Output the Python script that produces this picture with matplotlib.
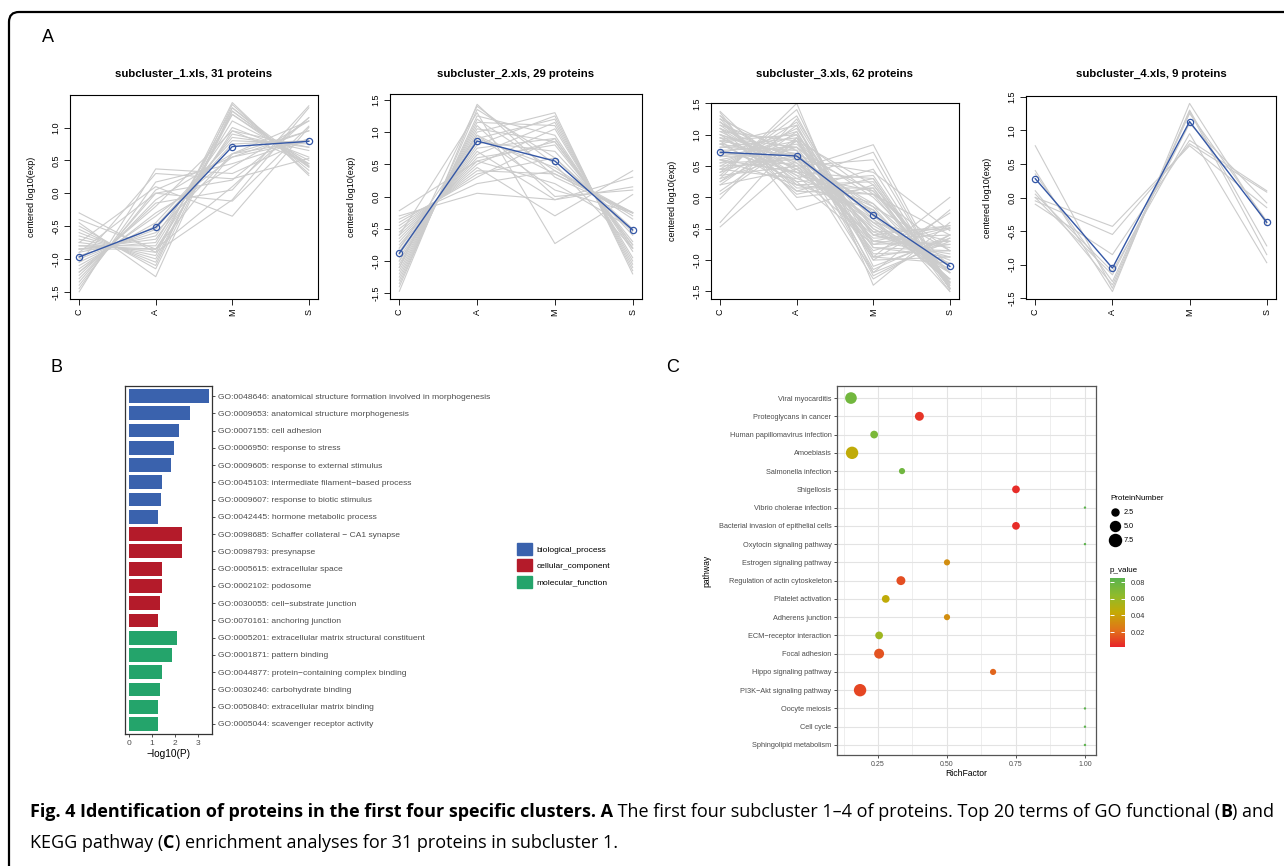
import numpy as np
import matplotlib
matplotlib.use("Agg")
import matplotlib.pyplot as plt
from matplotlib.colors import LinearSegmentedColormap, Normalize
from matplotlib.cm import ScalarMappable
from matplotlib.lines import Line2D
from matplotlib.patches import Patch, FancyBboxPatch
from matplotlib.transforms import IdentityTransform

plt.rcParams['font.family'] = ['Liberation Sans', 'DejaVu Sans']
plt.rcParams['axes.unicode_minus'] = False

W, H = 1284, 866

# ===============================
# Panel A data: profiles per subcluster (C, A, M, S)
# ===============================
conditions = ['C', 'A', 'M', 'S']

sub1_title = 'subcluster_1.xls, 31 proteins'
sub1_center = [-0.97, -0.52, 0.71, 0.79]
sub1_profiles = [
    [-1.50, 0.37, 0.30, 0.83], [-1.45, 0.17, 0.45, 0.83], [-1.40, 0.05, 0.55, 0.80],
    [-1.35, 0.00, 0.20, 1.15], [-1.30, -0.10, 0.60, 0.80], [-1.25, -0.15, 0.05, 1.33],
    [-1.20, -0.30, 0.40, 1.10], [-1.15, -0.35, 0.55, 0.95], [-1.10, -0.45, 0.80, 0.75],
    [-1.05, -0.50, 0.75, 0.80], [-1.00, -0.55, 0.85, 0.70], [-0.95, -0.60, 0.60, 0.95],
    [-0.90, -0.65, 1.00, 0.55], [-0.85, -0.70, 0.90, 0.65], [-0.85, -0.75, 1.20, 0.40],
    [-0.80, -0.80, 1.10, 0.50], [-0.80, -0.85, 0.95, 0.70], [-0.75, -0.90, 1.30, 0.35],
    [-0.70, -0.95, 1.38, 0.27], [-0.65, -1.00, 1.20, 0.45], [-0.60, -1.05, 1.25, 0.40],
    [-0.55, -1.10, 1.35, 0.30], [-0.50, -1.15, 1.25, 0.40], [-0.45, -1.27, 1.30, 0.42],
    [-0.40, -0.85, 0.10, 1.15], [-0.30, -0.90, -0.10, 1.30], [-0.75, 0.10, -0.35, 1.00],
    [-0.90, 0.00, -0.12, 1.02], [-1.05, 0.30, 0.22, 0.53], [-1.20, -0.20, 0.95, 0.45],
    [-0.85, -0.85, 0.60, 1.10],
]

sub2_title = 'subcluster_2.xls, 29 proteins'
sub2_center = [-0.88, 0.86, 0.55, -0.52]
sub2_profiles = [
    [-1.47, 1.43, 0.30, -0.26], [-1.40, 1.35, 0.60, -0.55], [-1.35, 1.25, 0.95, -0.85],
    [-1.30, 1.20, 0.40, -0.30], [-1.25, 1.15, 1.10, -1.00], [-1.20, 1.10, 0.00, 0.10],
    [-1.15, 1.05, 0.85, -0.75], [-1.10, 1.00, 1.30, -1.20], [-1.05, 0.95, 0.35, -0.25],
    [-1.00, 0.90, 1.20, -1.10], [-0.95, 0.85, 0.70, -0.60], [-0.90, 0.80, 1.25, -1.15],
    [-0.85, 0.75, 0.90, -0.80], [-0.80, 0.70, -0.05, 0.15], [-0.75, 0.65, 1.15, -1.05],
    [-0.70, 0.60, 0.80, -0.70], [-0.65, 0.55, 0.85, -0.75], [-0.60, 0.50, 1.05, -0.95],
    [-0.55, 0.45, -0.30, 0.40], [-0.50, 0.40, 0.35, -0.25], [-0.45, 0.35, 0.60, -0.50],
    [-0.40, 0.30, 0.90, -0.80], [-0.35, 0.20, 0.40, -0.25], [-0.30, 0.05, -0.05, 0.30],
    [-0.60, 1.30, -0.73, 0.03], [-1.10, 1.40, 0.50, -0.80], [-0.80, 0.95, 0.10, -0.25],
    [-0.22, 0.55, 0.20, -0.50], [-1.00, 0.90, 0.45, -0.35],
]

sub3_title = 'subcluster_3.xls, 62 proteins'
sub3_center = [0.72, 0.66, -0.28, -1.10]
sub3_profiles = [
    [1.37, 0.20, -0.20, -1.37], [1.30, 0.40, -0.40, -1.30], [1.25, 0.10, 0.05, -1.40],
    [1.20, 0.50, -0.35, -1.35], [1.15, 0.30, -0.10, -1.35], [1.10, 0.60, -0.50, -1.20],
    [1.05, 0.45, -0.20, -1.30], [1.00, 0.55, -0.40, -1.15], [0.95, 0.35, 0.10, -1.40],
    [0.90, 0.70, -0.45, -1.15], [0.85, 0.65, -0.30, -1.20], [0.80, 0.75, -0.55, -1.00],
    [0.75, 0.80, -0.25, -1.30], [0.70, 0.60, -0.10, -1.20], [0.65, 0.90, -0.60, -0.95],
    [0.60, 0.85, -0.35, -1.10], [0.55, 1.00, -0.50, -1.05], [0.50, 1.10, -0.70, -0.90],
    [0.45, 1.20, -0.80, -0.85], [0.40, 1.30, -0.95, -0.75], [0.35, 1.40, -1.10, -0.65],
    [0.30, 1.50, -1.40, -0.40], [0.25, 1.15, -1.20, -0.20], [0.20, 1.05, -1.00, -0.25],
    [0.10, 0.95, -0.60, -0.45], [0.05, 0.90, -0.95, 0.00], [-0.02, 1.25, -0.75, -0.48],
    [-0.47, 0.60, 0.40, -0.53], [-0.40, 0.95, 0.05, -0.60], [1.35, -0.20, 0.20, -1.35],
    [1.30, 0.00, 0.15, -1.45], [1.20, 0.15, 0.15, -1.50], [1.10, 0.05, 0.30, -1.45],
    [1.00, 0.20, 0.25, -1.45], [0.90, 0.10, 0.45, -1.45], [0.85, 0.25, 0.35, -1.45],
    [0.75, 0.40, 0.30, -1.45], [0.45, 0.30, 0.72, -1.47], [0.35, 0.50, 0.60, -1.45],
    [0.20, 0.45, 0.84, -1.45], [0.95, 0.80, -0.80, -0.95], [1.05, 0.90, -1.00, -0.95],
    [1.15, 0.75, -1.20, -0.70], [1.25, 0.65, -1.30, -0.60], [0.90, 1.00, -1.25, -0.65],
    [0.80, 0.95, -1.15, -0.60], [0.65, 0.70, -0.85, -0.50], [0.55, 0.60, -0.70, -0.45],
    [0.50, 0.55, -0.55, -0.50], [0.45, 0.65, -0.40, -0.70], [0.95, 0.45, -0.60, -0.80],
    [1.10, 0.35, -0.70, -0.75], [1.20, 0.25, -0.75, -0.70], [0.75, 0.50, -0.65, -0.60],
    [0.60, 0.40, -0.15, -0.85], [0.70, 1.05, -0.90, -0.85], [0.85, 1.15, -0.95, -1.05],
    [0.40, 0.80, 0.00, -1.20], [0.30, 0.70, 0.10, -1.10], [0.25, 0.90, 0.20, -1.35],
    [1.00, 0.65, -0.15, -1.50], [0.60, 0.20, 0.05, -0.85],
]

sub4_title = 'subcluster_4.xls, 9 proteins'
sub4_center = [0.28, -1.05, 1.13, -0.37]
sub4_profiles = [
    [0.77, -1.35, 1.30, -0.72], [0.40, -1.40, 1.40, -0.40], [0.35, -1.25, 1.25, -0.35],
    [0.00, -0.43, 0.77, -0.15], [-0.05, -0.55, 0.80, 0.08], [-0.10, -0.85, 0.85, 0.10],
    [0.00, -1.15, 1.10, -0.08], [0.10, -1.30, 1.28, -0.85], [0.05, -1.10, 0.95, -0.97],
]

# ===============================
# Panel B data: GO enrichment
# ===============================
go_terms = [
    'GO:0048646: anatomical structure formation involved in morphogenesis',
    'GO:0009653: anatomical structure morphogenesis',
    'GO:0007155: cell adhesion',
    'GO:0006950: response to stress',
    'GO:0009605: response to external stimulus',
    'GO:0045103: intermediate filament\u2212based process',
    'GO:0009607: response to biotic stimulus',
    'GO:0042445: hormone metabolic process',
    'GO:0098685: Schaffer collateral \u2212 CA1 synapse',
    'GO:0098793: presynapse',
    'GO:0005615: extracellular space',
    'GO:0002102: podosome',
    'GO:0030055: cell\u2212substrate junction',
    'GO:0070161: anchoring junction',
    'GO:0005201: extracellular matrix structural constituent',
    'GO:0001871: pattern binding',
    'GO:0044877: protein\u2212containing complex binding',
    'GO:0030246: carbohydrate binding',
    'GO:0050840: extracellular matrix binding',
    'GO:0005044: scavenger receptor activity',
]
go_values = [3.48, 2.65, 2.17, 1.96, 1.83, 1.43, 1.39, 1.26,
             2.30, 2.30, 1.43, 1.43, 1.35, 1.26,
             2.09, 1.87, 1.43, 1.35, 1.26, 1.26]
go_category = ['biological_process'] * 8 + ['cellular_component'] * 6 + ['molecular_function'] * 6
go_classes = ['biological_process', 'cellular_component', 'molecular_function']
go_colors = {'biological_process': '#3A62AD', 'cellular_component': '#B41B2A',
             'molecular_function': '#24A46B'}

# ===============================
# Panel C data: KEGG enrichment
# ===============================
pathways = ['Viral myocarditis', 'Proteoglycans in cancer', 'Human papillomavirus infection',
            'Amoebiasis', 'Salmonella infection', 'Shigellosis', 'Vibrio cholerae infection',
            'Bacterial invasion of epithelial cells', 'Oxytocin signaling pathway',
            'Estrogen signaling pathway', 'Regulation of actin cytoskeleton',
            'Platelet activation', 'Adherens junction', 'ECM\u2212receptor interaction',
            'Focal adhesion', 'Hippo signaling pathway', 'PI3K\u2212Akt signaling pathway',
            'Oocyte meiosis', 'Cell cycle', 'Sphingolipid metabolism']
rich_factor = [0.152, 0.400, 0.236, 0.156, 0.337, 0.750, 1.000, 0.750, 1.000, 0.500,
               0.333, 0.278, 0.500, 0.254, 0.254, 0.667, 0.185, 1.000, 1.000, 1.000]
protein_number = [7, 4, 3, 8, 2, 3, 1, 3, 1, 2, 4, 3, 2, 3, 5, 2, 8, 1, 1, 1]
p_value = [0.075, 0.006, 0.072, 0.045, 0.076, 0.004, 0.084, 0.004, 0.084, 0.033,
           0.013, 0.045, 0.033, 0.058, 0.014, 0.019, 0.011, 0.084, 0.084, 0.084]
size_breaks = [2.5, 5.0, 7.5]
p_breaks = [0.02, 0.04, 0.06, 0.08]
p_limits = (0.002, 0.085)

caption_line1 = [('Fig. 4 Identification of proteins in the first four specific clusters. A', 'bold'),
                 (' The first four subcluster 1\u20134 of proteins. Top 20 terms of GO functional (', 'normal'),
                 ('B', 'bold'), (') and', 'normal')]
caption_line2 = [('KEGG pathway (', 'normal'), ('C', 'bold'),
                 (') enrichment analyses for 31 proteins in subcluster 1.', 'normal')]


def px_axes(fig, x0, y0, x1, y1):
    return fig.add_axes([x0 / W, 1 - y1 / H, (x1 - x0) / W, (y1 - y0) / H])


def dot_px(n):
    # ggplot area scale, range ~2.4..12.4 px over counts 1..8
    return 2.4 + 10.0 * np.sqrt((np.asarray(n, float) - 1) / 7.0)


fig = plt.figure(figsize=(W / 100, H / 100), dpi=100)

# outer frame (only top-left corner visible)
fig.patches.append(FancyBboxPatch((9, -40), 1400, H - 12 + 40,
                                  boxstyle='round,pad=0,rounding_size=10',
                                  fill=False, lw=1.6, ec='black',
                                  transform=IdentityTransform(), figure=fig))

fig.text(48 / W, 1 - 37 / H, 'A', fontsize=13, ha='center', va='center')
fig.text(56 / W, 1 - 368 / H, 'B', fontsize=13, ha='center', va='center')
fig.text(673 / W, 1 - 368 / H, 'C', fontsize=13, ha='center', va='center')

# ===============================
# Panel A
# ===============================
blue = '#3457A6'
xs = np.arange(1, 5)
panelA = [
    (sub1_title, sub1_profiles, sub1_center, (70, 95, 318, 299), (-1.61, 1.495)),
    (sub2_title, sub2_profiles, sub2_center, (390, 94, 642, 299), (-1.59, 1.59)),
    (sub3_title, sub3_profiles, sub3_center, (711, 103, 959, 299), (-1.62, 1.505)),
    (sub4_title, sub4_profiles, sub4_center, (1026, 96, 1276, 299), (-1.51, 1.51)),
]
for title, prof, cen, box, ylim in panelA:
    ax = px_axes(fig, *box)
    for row in prof:
        ax.plot(xs, row, color='#CCCCCC', lw=0.8)
    ax.plot(xs, cen, color=blue, lw=1.0, marker='o', mfc='none', mec=blue, ms=4.5, mew=0.9)
    ax.set_xlim(0.88, 4.12)
    ax.set_ylim(*ylim)
    ax.set_xticks(xs)
    ax.set_xticklabels(conditions, rotation=90)
    yt = [t for t in np.arange(-1.5, 1.51, 0.5) if ylim[0] <= t <= ylim[1] + 1e-9]
    ax.set_yticks(yt)
    ax.set_yticklabels(['%.1f' % t for t in yt], rotation=90, va='center')
    ax.tick_params(direction='out', length=4, width=0.6, labelsize=6.5, pad=3)
    for s in ax.spines.values():
        s.set_linewidth(0.8)
    ax.set_ylabel('centered log10(exp)', fontsize=6.5)
    ax.yaxis.set_label_coords(-34 / (box[2] - box[0]), 0.5)
    fig.text((box[0] + box[2]) / 2 / W, 1 - 74 / H, title, fontsize=8.2,
             fontweight='bold', ha='center', va='center')

# ===============================
# Panel B
# ===============================
axb = px_axes(fig, 125, 386, 212, 734)
yb = np.arange(len(go_terms))
axb.barh(yb, go_values, height=0.8, color=[go_colors[c] for c in go_category])
axb.set_xlim(-0.17, 3.6)
axb.set_ylim(19.58, -0.58)
axb.yaxis.tick_right()
axb.set_yticks(yb)
axb.set_yticklabels(go_terms)
axb.set_xticks([0, 1, 2, 3])
axb.tick_params(axis='both', length=2.5, width=0.6, labelsize=6.1, colors='#333333',
                labelcolor='#4D4D4D', pad=2)
axb.tick_params(axis='x', labelsize=6)
for s in axb.spines.values():
    s.set_linewidth(0.9)
    s.set_color('#333333')
axb.set_xlabel('\u2212log10(P)', fontsize=7.3, labelpad=1)
handles = [Patch(color=go_colors[c], label=c) for c in go_classes]
fig.legend(handles=handles, loc='upper left', bbox_to_anchor=(517 / W, 1 - 543 / H),
           frameon=False, fontsize=6, handlelength=1.8, handleheight=1.8,
           handletextpad=0.5, labelspacing=0.55, borderpad=0, borderaxespad=0)

# ===============================
# Panel C
# ===============================
cmap = LinearSegmentedColormap.from_list('pv', ['#E8252A', '#E0741A', '#C4AA05', '#8EBB2C', '#5AB34E'])
norm = Normalize(*p_limits)
axc = px_axes(fig, 837, 386, 1096, 755)
yc = np.arange(len(pathways))
axc.set_axisbelow(True)
axc.scatter(rich_factor, yc, s=(dot_px(protein_number) * 0.72) ** 2, c=p_value,
            cmap=cmap, norm=norm, linewidths=0, zorder=3)
axc.set_xlim(0.1014, 1.04)
axc.set_ylim(19.55, -0.66)
axc.set_xticks([0.25, 0.50, 0.75, 1.00])
axc.set_xticklabels(['0.25', '0.50', '0.75', '1.00'])
axc.set_xticks([0.125, 0.375, 0.625, 0.875], minor=True)
axc.set_yticks(yc)
axc.set_yticklabels(pathways)
axc.grid(True, which='major', color='#E3E3E3', lw=0.8)
axc.grid(True, which='minor', axis='x', color='#EBEBEB', lw=0.6)
axc.tick_params(axis='both', which='major', length=2.5, width=0.6, labelsize=5.3,
                colors='#333333', labelcolor='#4D4D4D', pad=1.5)
axc.tick_params(axis='x', labelsize=5)
axc.tick_params(axis='x', which='minor', length=0)
for s in axc.spines.values():
    s.set_linewidth(0.9)
    s.set_color('#555555')
axc.set_xlabel('RichFactor', fontsize=6.2, labelpad=1)
axc.set_ylabel('pathway', fontsize=6.2, labelpad=5)

size_handles = [Line2D([], [], ls='', marker='o', color='black',
                       markersize=float(dot_px(b)) * 0.72) for b in size_breaks]
fig.legend(handles=size_handles, labels=['%.1f' % b for b in size_breaks],
           title='ProteinNumber', loc='upper left', bbox_to_anchor=(1110 / W, 1 - 495 / H),
           frameon=False, fontsize=5.3, title_fontsize=5.8, alignment='left',
           handlelength=1.3, handletextpad=0.6, labelspacing=0.95, borderpad=0, borderaxespad=0)

fig.text(1110 / W, 1 - 571 / H, 'p_value', fontsize=5.8, ha='left', va='center')
cax = px_axes(fig, 1110, 578, 1125, 647)
cb = fig.colorbar(ScalarMappable(norm=norm, cmap=cmap), cax=cax, ticks=p_breaks)
cb.outline.set_visible(False)
cb.ax.set_yticklabels(['%.2f' % b for b in p_breaks])
cax.tick_params(axis='y', direction='in', color='white', length=3, width=0.7,
                left=True, right=True, labelsize=5.3, labelcolor='#333333', pad=4)

# ===============================
# Caption
# ===============================
cap_fonts = ['Open Sans', 'DejaVu Sans']
renderer = fig.canvas.get_renderer()


def put_line(pieces, y, size):
    x = 30
    made = []
    for txt, wt in pieces:
        t = fig.text(x / W, 1 - y / H, txt, fontsize=size, fontweight=wt,
                     family=cap_fonts, ha='left', va='center')
        made.append(t)
        x = t.get_window_extent(renderer).x1
    return x, made


end, first = put_line(caption_line1, 812, 11)
scale = (1278 - 30) / (end - 30)
for t in first:
    t.remove()
put_line(caption_line1, 812, 11 * scale)
put_line(caption_line2, 843, 11 * scale)

fig.savefig('out.png', dpi=100)
